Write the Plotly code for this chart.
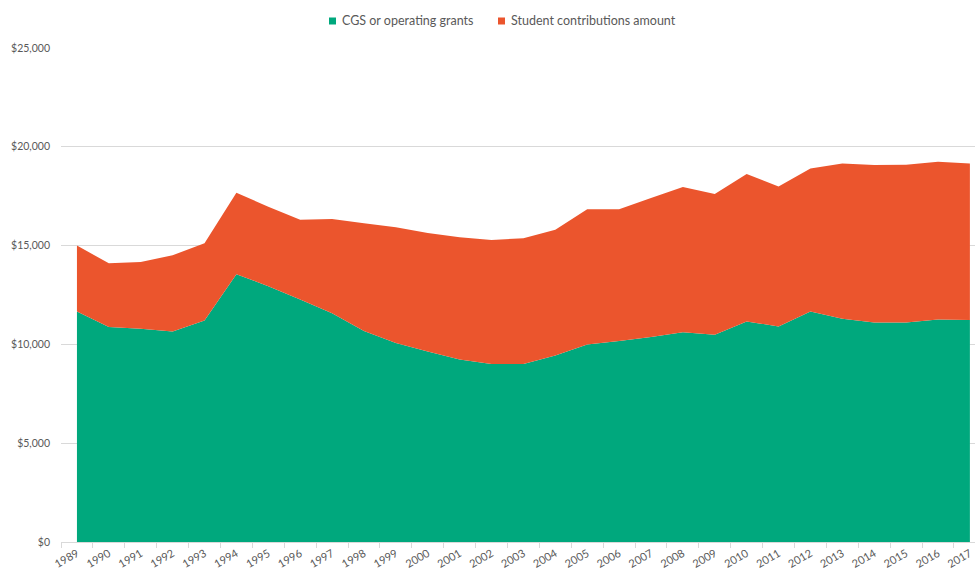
import plotly.graph_objects as go

years = [str(y) for y in range(1989, 2018)]
cgs = [11667, 10875, 10791, 10657, 11212, 13552, 12946, 12273, 11582, 10673,
       10067, 9646, 9242, 9006, 9006, 9444, 10000, 10168, 10370, 10620,
       10488, 11162, 10909, 11667, 11296, 11111, 11111, 11263, 11229]
student = [3333, 3231, 3384, 3855, 3906, 4125, 4024, 4040, 4765, 5455,
           5859, 5994, 6178, 6280, 6364, 6364, 6835, 6667, 7037, 7340,
           7122, 7458, 7088, 7238, 7862, 7963, 7980, 7979, 7929]
series_names = ["CGS or operating grants", "Student contributions amount"]

green = "#00A87D"
orange = "#EB552D"
font = "Lato, Carlito, Calibri, sans-serif"

W, H = 975, 571
L, R, T, B = 61, 0, 48, 29
pw, ph = W - L - R, H - T - B

fig = go.Figure()
fig.add_trace(go.Scatter(x=years, y=cgs, name=series_names[0],
                         stackgroup="one", mode="none", fillcolor=green,
                         line=dict(width=0), showlegend=False))
fig.add_trace(go.Scatter(x=years, y=student, name=series_names[1],
                         stackgroup="one", mode="none", fillcolor=orange,
                         line=dict(width=0), showlegend=False))

# manual legend (square swatch + label) placed like the original
leg_y = (H - B - 21) / ph
for nm, col, sx in zip(series_names, [green, orange], [329, 498]):
    x0 = (sx - L) / pw
    x1 = (sx + 7 - L) / pw
    fig.add_shape(type="rect", xref="paper", yref="paper",
                  x0=x0, x1=x1, y0=leg_y - 3.5 / ph, y1=leg_y + 3.5 / ph,
                  fillcolor=col, line=dict(width=0))
    fig.add_annotation(text=nm, xref="paper", yref="paper",
                       x=(sx + 11 - L) / pw, y=leg_y, xanchor="left",
                       yanchor="middle", showarrow=False,
                       font=dict(size=12.5, color="#595959"))

fig.update_layout(
    width=W, height=H,
    margin=dict(l=L, r=R, t=T, b=B),
    paper_bgcolor="white", plot_bgcolor="white",
    font=dict(family=font, size=12.5, color="#595959"),
    showlegend=False,
    xaxis=dict(type="category", range=[-0.5, 28.16], tickson="boundaries",
               ticks="outside", ticklen=5, tickcolor="#D9D9D9",
               showline=True, linecolor="#D9D9D9", linewidth=1,
               showgrid=False, tickangle=-30, automargin=False,
               tickfont=dict(size=11, color="#595959")),
    yaxis=dict(range=[0, 25000], dtick=5000, tickformat="$,", showgrid=True,
               gridcolor="#D9D9D9", gridwidth=1, zeroline=False, showline=False,
               ticks="", automargin=False, ticklabelstandoff=10,
               tickfont=dict(size=10.5, color="#595959")),
)

fig.write_html("out.html", config={"displayModeBar": False},
               post_script="document.body.style.margin='0';document.body.style.overflow='hidden';")
